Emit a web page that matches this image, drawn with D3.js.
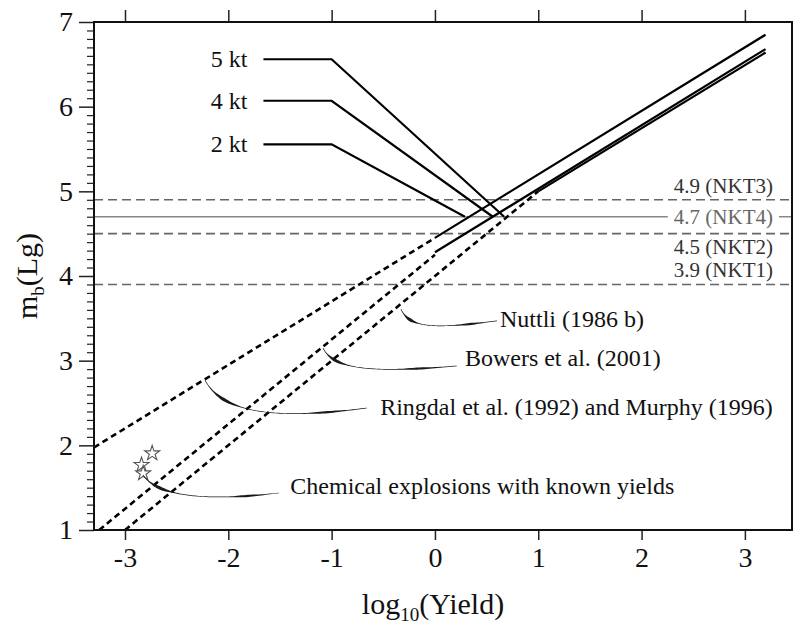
<!DOCTYPE html>
<html>
<head>
<meta charset="utf-8">
<script src="https://cdn.jsdelivr.net/npm/d3@7"></script>
<style>
  html, body { margin: 0; padding: 0; background: #fff; }
  svg { display: block; }
  text { font-family: "Liberation Serif", "Times New Roman", serif; }
</style>
</head>
<body>
<svg id="chart" width="794" height="626"></svg>
<script>
// ---- data -------------------------------------------------------------
const xTicks = [-3, -2, -1, 0, 1, 2, 3];
const xTickLabels = ["-3", "-2", "-1", "0", "1", "2", "3"];
const yTicks = [1, 2, 3, 4, 5, 6, 7];
const yMinorTicks = d3.range(10, 71).map(d => d / 10);

// magnitude-yield relations: [log10(Yield), mb(Lg)]
const ringdalDashed = [[-3.3, 1.975], [0, 4.45]];
const ringdalSolid  = [[0, 4.45], [3.2, 6.85]];
const bowersDashed  = [[-3.25, 1.0], [0, 4.25]];
const bowersSolid   = [[0, 4.28], [3.2, 6.68]];
const nuttliDashed  = [[-3.0, 1.0], [1.0, 5.0]];
const nuttliSolid   = [[1.0, 5.0], [3.2, 6.64]];

// network detection thresholds
const thresholdValues = [4.9, 4.7, 4.5, 3.9];
const thresholdLabels = ["4.9 (NKT3)", "4.7 (NKT4)", "4.5 (NKT2)", "3.9 (NKT1)"];
const thresholdDashed = [true, false, true, true];

// yield read-outs: label, mb level of the tag, bend and end of the leader
const ktLabels = ["5 kt", "4 kt", "2 kt"];
const ktLevels = [6.56, 6.07, 5.555];
const ktEndX   = [0.67, 0.56, 0.29];
const ktStartX = -1.66, ktBendX = -1.0, ktEndMb = 4.7;

// chemical explosions with known yields
const chemX  = [-2.737, -2.84, -2.824];
const chemMb = [1.906, 1.768, 1.67];

// callouts: text, text anchor point, curve control points (data units)
const calloutTexts = ["Nuttli (1986 b)", "Bowers et al. (2001)",
  "Ringdal et al. (1992) and Murphy (1996)", "Chemical explosions with known yields"];
const calloutTextPos = [[0.63, 3.40], [0.29, 2.94], [-0.53, 2.36], [-1.40, 1.42]];
const calloutCurves = [
  [[-0.329, 3.610], [-0.242, 3.362], [0.048, 3.386], [0.600, 3.469]],
  [[-1.084, 3.150], [-0.968, 2.866], [-0.532, 2.866], [0.213, 2.937]],
  [[-2.226, 2.772], [-2.033, 2.323], [-1.403, 2.323], [-0.658, 2.441]],
  [[-2.826, 1.650], [-2.662, 1.355], [-2.081, 1.355], [-1.510, 1.437]]
];

// ---- layout -----------------------------------------------------------
const svg = d3.select("#chart");
const plot = { left: 94, right: 792, top: 22, bottom: 530 };
const x = d3.scaleLinear().domain([-3.3, 3.456]).range([plot.left, plot.right]);
const y = d3.scaleLinear().domain([1, 7]).range([plot.bottom, plot.top]);

svg.append("defs").append("clipPath").attr("id", "plotclip")
  .append("rect").attr("x", plot.left).attr("y", plot.top)
  .attr("width", plot.right - plot.left).attr("height", plot.bottom - plot.top);

const g = svg.append("g");
const line = d3.line().x(d => x(d[0])).y(d => y(d[1]));

// ---- thresholds -------------------------------------------------------
thresholdValues.forEach((v, i) => {
  const t = g.append("text")
    .attr("x", 773).attr("text-anchor", "end")
    .attr("font-size", 21).attr("fill", i === 1 ? "#666" : "#333")
    .text(thresholdLabels[i]);
  const yy = y(v);
  if (i === 0 || i === 3) t.attr("y", yy - 7);
  else if (i === 1) t.attr("y", yy + 7);
  else t.attr("y", yy + 20);

  if (thresholdDashed[i]) {
    g.append("line").attr("x1", plot.left).attr("x2", plot.right)
      .attr("y1", yy).attr("y2", yy)
      .attr("stroke", "#666").attr("stroke-width", 1.6)
      .attr("stroke-dasharray", "9,5");
  } else {
    const bb = t.node().getBBox();
    g.append("line").attr("x1", plot.left).attr("x2", bb.x - 6)
      .attr("y1", yy).attr("y2", yy)
      .attr("stroke", "#888").attr("stroke-width", 1.5);
    g.append("line").attr("x1", bb.x + bb.width + 6).attr("x2", plot.right)
      .attr("y1", yy).attr("y2", yy)
      .attr("stroke", "#888").attr("stroke-width", 1.5);
  }
});

// ---- relations --------------------------------------------------------
const lines = g.append("g").attr("clip-path", "url(#plotclip)");
[ringdalDashed, bowersDashed, nuttliDashed].forEach(d => {
  lines.append("path").attr("d", line(d)).attr("fill", "none")
    .attr("stroke", "#000").attr("stroke-width", 2.6)
    .attr("stroke-dasharray", "6,4");
});
[ringdalSolid, bowersSolid, nuttliSolid].forEach(d => {
  lines.append("path").attr("d", line(d)).attr("fill", "none")
    .attr("stroke", "#000").attr("stroke-width", 2.2);
});

// ---- yield read-out leaders ------------------------------------------
ktLabels.forEach((lab, i) => {
  const pts = [[ktStartX, ktLevels[i]], [ktBendX, ktLevels[i]], [ktEndX[i], ktEndMb]];
  g.append("path").attr("d", line(pts)).attr("fill", "none")
    .attr("stroke", "#000").attr("stroke-width", 2.2);
  g.append("text").attr("x", x(ktStartX) - 16).attr("y", y(ktLevels[i]) + 8)
    .attr("text-anchor", "end").attr("font-size", 24).attr("fill", "#111")
    .text(lab);
});

// ---- chemical explosions ----------------------------------------------
g.selectAll(".star").data(chemX).enter().append("path")
  .attr("class", "star")
  .attr("transform", (d, i) => `translate(${x(d)},${y(chemMb[i])})`)
  .attr("d", d3.symbol().type(d3.symbolStar).size(70)())
  .attr("fill", "#fff").attr("stroke", "#555").attr("stroke-width", 1.1);

// ---- callouts: tapered brush-like leaders ----------------------------
function bez(p, t) {
  const u = 1 - t;
  return [
    u*u*u*p[0][0] + 3*u*u*t*p[1][0] + 3*u*t*t*p[2][0] + t*t*t*p[3][0],
    u*u*u*p[0][1] + 3*u*u*t*p[1][1] + 3*u*t*t*p[2][1] + t*t*t*p[3][1]
  ];
}
function widthAt(t) {
  return 0.7 + 2.4 * Math.exp(-Math.pow((t - 0.22) / 0.09, 2))
             + 1.5 * Math.exp(-Math.pow((t - 0.82) / 0.07, 2));
}
calloutCurves.forEach((c, k) => {
  const p = c.map(d => [x(d[0]), y(d[1])]);
  const n = 80, left = [], right = [];
  for (let i = 0; i <= n; i++) {
    const t = i / n;
    const a = bez(p, Math.max(0, t - 0.005)), b = bez(p, Math.min(1, t + 0.005));
    const dx = b[0] - a[0], dy = b[1] - a[1];
    const len = Math.hypot(dx, dy) || 1;
    const nx = -dy / len, ny = dx / len;
    const c0 = bez(p, t), w = widthAt(t) / 2;
    left.push([c0[0] + nx * w, c0[1] + ny * w]);
    right.push([c0[0] - nx * w, c0[1] - ny * w]);
  }
  const poly = left.concat(right.reverse());
  g.append("path").attr("d", "M" + poly.map(q => q.join(",")).join("L") + "Z")
    .attr("fill", "#1a1a1a");
  g.append("text").attr("x", x(calloutTextPos[k][0])).attr("y", y(calloutTextPos[k][1]))
    .attr("font-size", 24).attr("fill", "#111").text(calloutTexts[k]);
});

// ---- axes -------------------------------------------------------------
const axes = svg.append("g");
const bottomAxis = d3.axisBottom(x).tickValues(xTicks).tickSize(10).tickPadding(6)
  .tickFormat((d, i) => xTickLabels[i]);
axes.append("g").attr("transform", `translate(0,${plot.bottom})`).call(bottomAxis)
  .call(s => s.select(".domain").remove())
  .call(s => s.selectAll("line").attr("stroke", "#222").attr("stroke-width", 1.5))
  .call(s => s.selectAll("text").attr("font-size", 28).attr("fill", "#111")
    .attr("font-family", "Liberation Serif").attr("dy", "0.75em"));

const topAxis = d3.axisTop(x).tickValues(xTicks).tickSize(12).tickFormat("");
axes.append("g").attr("transform", `translate(0,${plot.top})`).call(topAxis)
  .call(s => s.select(".domain").remove())
  .call(s => s.selectAll("line").attr("stroke", "#222").attr("stroke-width", 1.5));

const leftMinor = d3.axisLeft(y).tickValues(yMinorTicks.filter(v => Math.abs(v - Math.round(v)) > 1e-6))
  .tickSize(7).tickFormat("");
axes.append("g").attr("transform", `translate(${plot.left},0)`).call(leftMinor)
  .call(s => s.select(".domain").remove())
  .call(s => s.selectAll("line").attr("stroke", "#222").attr("stroke-width", 1.2));

const leftAxis = d3.axisLeft(y).tickValues(yTicks).tickSize(15).tickPadding(6)
  .tickFormat(d => String(d));
axes.append("g").attr("transform", `translate(${plot.left},0)`).call(leftAxis)
  .call(s => s.select(".domain").remove())
  .call(s => s.selectAll("line").attr("stroke", "#222").attr("stroke-width", 1.5))
  .call(s => s.selectAll("text").attr("font-size", 28).attr("fill", "#111")
    .attr("font-family", "Liberation Serif"));

// frame
axes.append("rect").attr("x", plot.left).attr("y", plot.top)
  .attr("width", plot.right - plot.left).attr("height", plot.bottom - plot.top)
  .attr("fill", "none").attr("stroke", "#111").attr("stroke-width", 2);

// axis titles
const xt = svg.append("text").attr("x", (plot.left + plot.right) / 2 - 10).attr("y", 614)
  .attr("text-anchor", "middle").attr("font-size", 30).attr("fill", "#111");
xt.append("tspan").text("log");
xt.append("tspan").attr("font-size", 19).attr("dy", 7).text("10");
xt.append("tspan").attr("dy", -7).text("(Yield)");

const yt = svg.append("text")
  .attr("transform", `translate(37,${(plot.top + plot.bottom) / 2}) rotate(-90)`)
  .attr("text-anchor", "middle").attr("font-size", 30).attr("fill", "#111");
yt.append("tspan").text("m");
yt.append("tspan").attr("font-size", 19).attr("dy", 7).text("b");
yt.append("tspan").attr("dy", -7).text("(Lg)");
</script>
</body>
</html>
